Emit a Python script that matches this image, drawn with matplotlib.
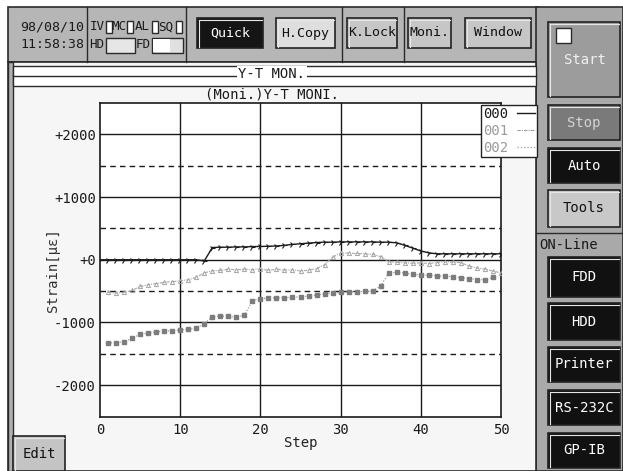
import matplotlib
matplotlib.use("Agg")

import matplotlib.pyplot as plt
from matplotlib.lines import Line2D
from matplotlib.patches import Rectangle

W, H = 623, 471

# channel 000 (black), 001 (light grey), 002 (grey squares)
steps_000 = list(range(0, 51))
strain_000 = [0, 0, 0, 0, 0, 0, 0, 0, 0, 0, 0, 0, 0, -20,
              195, 200, 200, 205, 205, 210,
              212, 215, 220, 230, 245, 255, 265, 275, 280, 280,
              285, 285, 285, 285, 285, 280, 280, 270, 230, 185, 140, 110,
              95, 95, 95, 95, 95, 95, 95, 95, 95]

steps_001 = list(range(1, 51))
strain_001 = [-520, -530, -520, -490, -425, -400, -380, -360, -350, -335,
              -320, -280, -210, -175, -170, -150, -160, -150, -160, -145,
              -170, -150, -165, -160, -180, -165, -140, -80, 40, 110,
              105, 100, 95, 85, 50, -30, -40, -50, -55, -50,
              -60, -45, -30, -40, -45, -100, -130, -150, -180, -210]

steps_002 = list(range(1, 50))
strain_002 = [-1330, -1320, -1310, -1250, -1190, -1170, -1150, -1140, -1130, -1120,
              -1110, -1090, -1020, -910, -900, -900, -920, -880, -655, -620,
              -612, -608, -604, -600, -590, -580, -560, -545, -535, -520,
              -515, -510, -505, -495, -420, -210, -200, -212, -235, -242,
              -248, -255, -262, -270, -285, -300, -315, -320, -280]

y_ticks = [-2000, -1000, 0, 1000, 2000]
y_tick_labels = ["-2000", "-1000", "+0", "+1000", "+2000"]
y_dashed = [-1500, -500, 500, 1500]
x_ticks = [0, 10, 20, 30, 40, 50]
x_grid = [10, 20, 30, 40]

channel_labels = ["000", "001", "002"]

plt.rcParams["font.family"] = ["DejaVu Sans Mono", "DejaVu Sans"]

fig = plt.figure(figsize=(W / 100, H / 100), dpi=100)
fig.patch.set_facecolor("white")


def fx(x):
    return x / W


def fy(y):
    return 1 - y / H


def rect(x0, y0, x1, y1, fc, ec="none", lw=0.0, z=-5):
    fig.add_artist(Rectangle((fx(x0), fy(y1)), (x1 - x0) / W, (y1 - y0) / H,
                             transform=fig.transFigure, facecolor=fc,
                             edgecolor=ec, linewidth=lw, zorder=z))


def line(xs, ys, color="#2a2a2a", lw=1.0, z=-4):
    fig.add_artist(Line2D([fx(x) for x in xs], [fy(y) for y in ys],
                          transform=fig.transFigure, color=color,
                          linewidth=lw, zorder=z))


def label(x, y, s, color="#1a1a1a", size=10, ha="center", **kw):
    fig.text(fx(x), fy(y), s, ha=ha, va="center", color=color,
             fontsize=size, **kw)


def button(x0, y0, x1, y1, text, fc, tc, size=9.5):
    rect(x0, y0, x1, y1, fc, ec="#222222", lw=1.2, z=-3)
    line([x0 + 1.5, x1 - 1.5], [y0 + 1.5, y0 + 1.5], color="#e6e6e6", lw=0.8, z=-2)
    line([x0 + 1.5, x0 + 1.5], [y0 + 1.5, y1 - 1.5], color="#e6e6e6", lw=0.8, z=-2)
    label((x0 + x1) / 2, (y0 + y1) / 2, text, color=tc, size=size)


# window frames
rect(8, 7, 538, 62, "#b6b6b6", ec="#2a2a2a", lw=1.2)
rect(536, 7, 623, 471, "#a9a9a9", ec="#2a2a2a", lw=1.2)
rect(8, 62, 536, 471, "#f6f6f6", ec="#2a2a2a", lw=1.2)
rect(8, 62, 13, 471, "#b0b0b0", ec="#2a2a2a", lw=1.0)
rect(13, 66, 536, 86, "white", ec="#2a2a2a", lw=1.0)
line([13, 536], [76, 76])

# toolbar
for sx in [87, 186, 342, 404]:
    line([sx, sx], [7, 62], lw=1.0)
label(52, 27, "98/08/10", size=9.5)
label(52, 45, "11:58:38", size=9.5)
for name, tx, bx in [("IV", 97, 106), ("MC", 119, 127), ("AL", 142, 152), ("SQ", 166, 176)]:
    label(tx, 27, name, size=9)
    rect(bx, 21, bx + 6, 33, "white", ec="#2a2a2a", lw=1.0, z=-3)
label(97, 45, "HD", size=9)
rect(106, 38, 135, 53, "#e6e6e6", ec="#2a2a2a", lw=1.0, z=-3)
label(143, 45, "FD", size=9)
rect(152, 38, 183, 53, "#e0e0e0", ec="#2a2a2a", lw=1.0, z=-3)
rect(153, 39, 170, 52, "white", z=-2)

button(197, 18, 263, 48, "Quick", "#151515", "white")
button(276, 18, 335, 48, "H.Copy", "#dedede", "#111111")
button(347, 18, 397, 48, "K.Lock", "#c6c6c6", "#111111")
button(408, 18, 451, 48, "Moni.", "#c6c6c6", "#111111")
button(465, 18, 531, 48, "Window", "#c6c6c6", "#111111")

# right side panel
button(548, 22, 620, 97, "", "#9c9c9c", "#f0f0f0")
rect(556, 28, 571, 43, "white", ec="#2a2a2a", lw=1.0, z=-1)
label(585, 60, "Start", color="#f0f0f0", size=10)
button(548, 105, 620, 140, "Stop", "#7a7a7a", "#d4d4d4", size=10)
button(548, 148, 620, 183, "Auto", "#111111", "white", size=10)
button(548, 190, 620, 227, "Tools", "#c8c8c8", "#111111", size=10)
line([536, 623], [233, 233])
label(539, 245, "ON-Line", ha="left", size=10)
for text, y0, y1 in [("FDD", 257, 297), ("HDD", 303, 340), ("Printer", 347, 382),
                     ("RS-232C", 390, 425), ("GP-IB", 433, 468)]:
    button(548, y0, 620, y1, text, "#111111", "white", size=10)

button(13, 436, 65, 471, "Edit", "#c4c4c4", "#111111", size=10)

label(272, 74, "Y-T MON.", size=10,
      bbox=dict(facecolor="white", edgecolor="none", pad=1.0))
label(272, 94, "(Moni.)Y-T MONI.", size=10)

# chart
ax = fig.add_axes([fx(100), fy(416.5), 401 / W, 313.5 / H])
ax.set_facecolor("white")
ax.set_xlim(0, 50)
ax.set_ylim(-2500, 2500)

for v in y_ticks:
    ax.axhline(v, color="#1a1a1a", lw=1.0, zorder=1)
for v in y_dashed:
    ax.axhline(v, color="#1a1a1a", lw=1.0, ls=(0, (4, 3)), zorder=1)
for v in x_grid:
    ax.axvline(v, color="#1a1a1a", lw=1.0, zorder=1)

ax.plot(steps_002, strain_002, color="#8a8a8a", lw=0.8, ls=":",
        marker="s", ms=3.4, mfc="#7c7c7c", mec="#7c7c7c", zorder=3)
ax.plot(steps_001, strain_001, color="#a8a8a8", lw=0.8, ls=(0, (3, 1, 1, 1)),
        marker="^", ms=3.0, mfc="none", mec="#a4a4a4", mew=0.7, zorder=4)
ax.plot(steps_000, strain_000, color="#1a1a1a", lw=1.0,
        marker="4", ms=4.5, mec="#1a1a1a", mew=0.8, zorder=5)

ax.set_xticks(x_ticks)
ax.set_yticks(y_ticks, y_tick_labels)
ax.tick_params(length=0, labelsize=10, colors="#1a1a1a")
ax.tick_params(axis="x", pad=5)
ax.tick_params(axis="y", pad=3)
for s in ax.spines.values():
    s.set_color("#1a1a1a")
    s.set_linewidth(1.2)

ax.set_ylabel("Strain[με]", fontsize=10, color="#333333")
ax.yaxis.set_label_coords((60 - 100) / 401, 0.467)
ax.set_xlabel("Step", fontsize=10, color="#222222")
ax.xaxis.set_label_coords(0.5, (416.5 - 436) / 313.5)

handles = [
    Line2D([], [], color="#1a1a1a", lw=1.0),
    Line2D([], [], color="#9a9a9a", lw=0.8, ls=(0, (3, 1, 1, 1))),
    Line2D([], [], color="#9a9a9a", lw=0.9, ls=":"),
]
leg = ax.legend(handles, channel_labels, loc="upper left",
                bbox_to_anchor=(fx(481), fy(105)), bbox_transform=fig.transFigure,
                frameon=True, fancybox=False, edgecolor="#222222", framealpha=1,
                borderpad=0.15, labelspacing=0.2, handlelength=1.3,
                handletextpad=0.6, borderaxespad=0, markerfirst=False,
                fontsize=10, labelcolor="linecolor")
leg.get_frame().set_linewidth(1.0)
leg.set_zorder(10)

fig.savefig("out.png", dpi=100)
